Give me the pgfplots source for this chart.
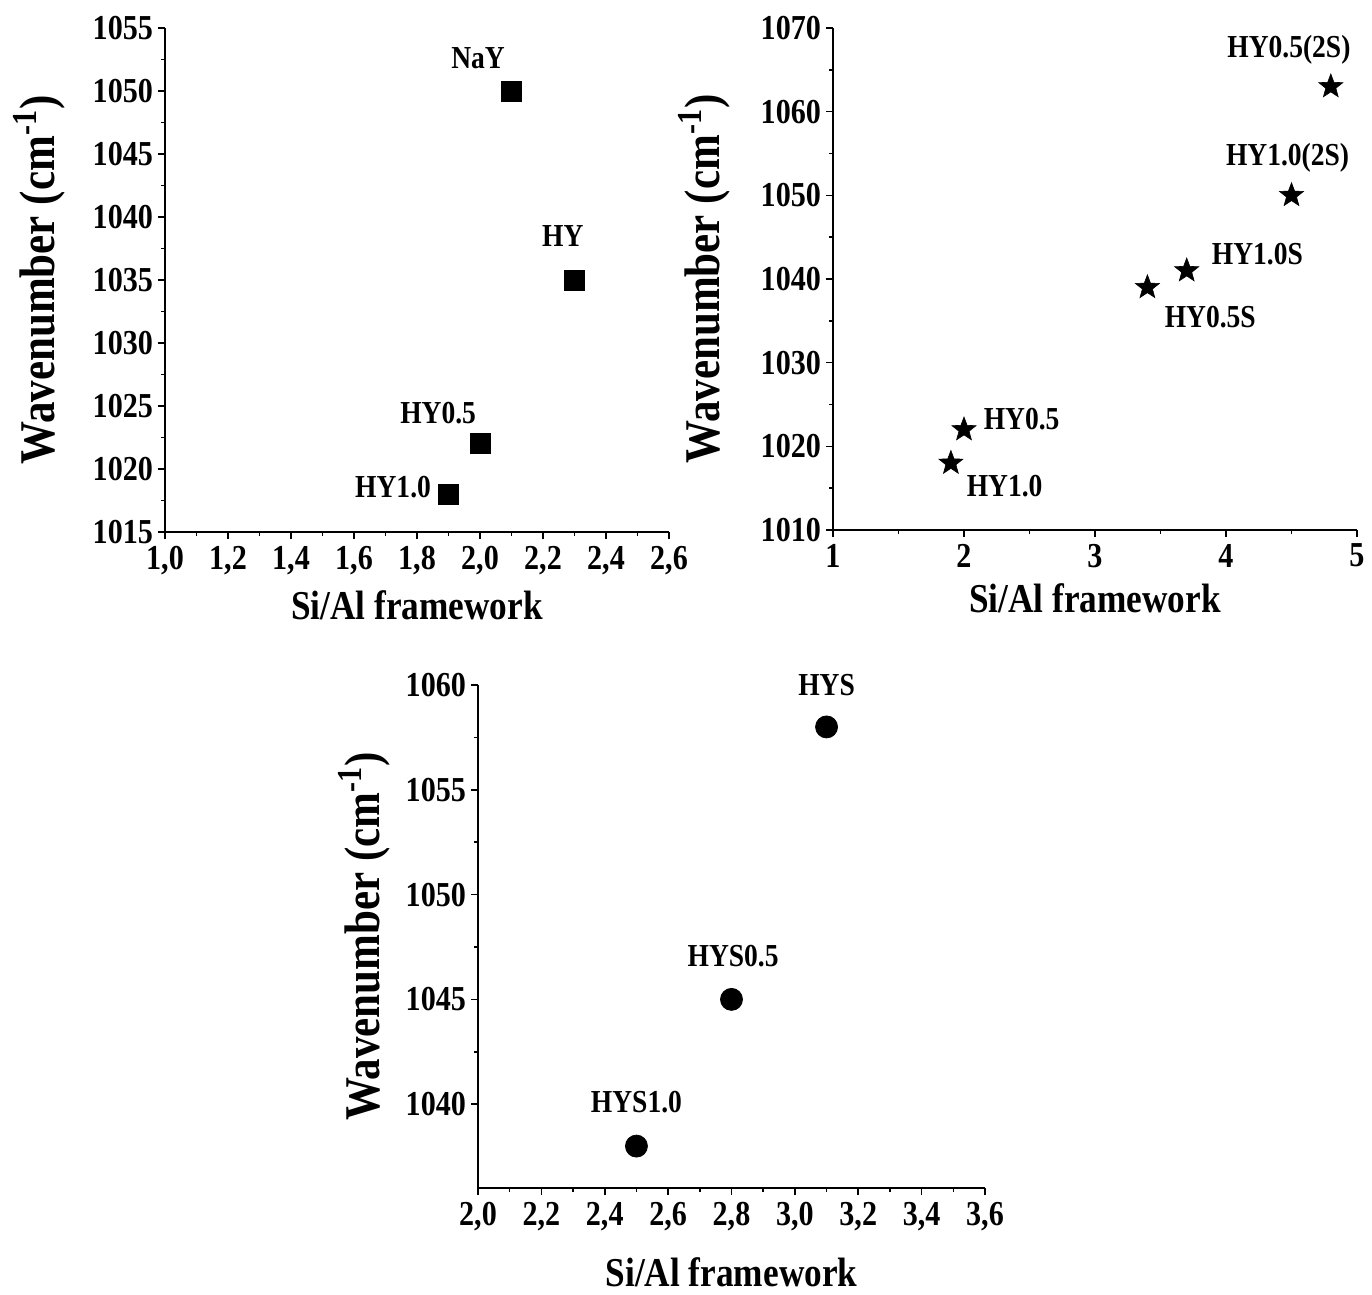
\documentclass[border=0pt]{standalone}
\usepackage{fontspec}
\setmainfont{Liberation Serif}[FakeStretch=0.86]
\usepackage{pgfplots}
\pgfplotsset{compat=1.18}
\pgfdeclareplotmark{fstar}{%
  \pgfpathmoveto{\pgfpointpolar{90}{\pgfplotmarksize}}%
  \pgfpathlineto{\pgfpointpolar{126}{0.42\pgfplotmarksize}}%
  \pgfpathlineto{\pgfpointpolar{162}{\pgfplotmarksize}}%
  \pgfpathlineto{\pgfpointpolar{198}{0.42\pgfplotmarksize}}%
  \pgfpathlineto{\pgfpointpolar{234}{\pgfplotmarksize}}%
  \pgfpathlineto{\pgfpointpolar{270}{0.42\pgfplotmarksize}}%
  \pgfpathlineto{\pgfpointpolar{306}{\pgfplotmarksize}}%
  \pgfpathlineto{\pgfpointpolar{342}{0.42\pgfplotmarksize}}%
  \pgfpathlineto{\pgfpointpolar{18}{\pgfplotmarksize}}%
  \pgfpathlineto{\pgfpointpolar{54}{0.42\pgfplotmarksize}}%
  \pgfpathclose
  \pgfusepathqfillstroke
}
\pgfplotsset{
  mystyle/.style={
    scale only axis,
    axis x line=bottom, axis y line=left,
    axis line style={-, line width=0.8pt},
    every tick/.style={line width=0.8pt, black},
    tick align=outside,
    major tick length=3.5pt, minor tick length=1.8pt,
    minor tick num=1,
    clip=false,
    tick label style={font=\bfseries\fontsize{17.5}{17.5}\selectfont, /pgf/number format/assume math mode=true},
    yticklabel style={/pgf/number format/set thousands separator={}, xshift=1pt},
    xlabel style={font=\bfseries\fontsize{20.5}{20.5}\selectfont},
    ylabel style={font=\bfseries\fontsize{25}{25}\selectfont},
    ylabel={Wavenumber (cm\textsuperscript{-1})},
    xlabel={Si/Al framework},
  },
  dec/.style={xticklabel style={/pgf/number format/.cd, fixed, precision=1, fixed zerofill, use comma}},
}
\tikzset{lab/.style={font=\bfseries\fontsize{16}{16}\selectfont, inner sep=0pt}}
\begin{document}
\begin{tikzpicture}
\useasboundingbox (0,0) rectangle (686pt,-647.5pt);
% ---------- plot 1 ----------
\begin{axis}[mystyle, dec,
  at={(82.5pt,-266pt)}, anchor=south west,
  width=252pt, height=252pt,
  xmin=1.0, xmax=2.6, ymin=1015, ymax=1055,
  xtick={1.0,1.2,1.4,1.6,1.8,2.0,2.2,2.4,2.6},
  ytick={1015,1020,1025,1030,1035,1040,1045,1050,1055},
  xlabel style={at={(axis description cs:0.5,-0.145)}, anchor=center},
  ylabel style={at={(axis description cs:-0.25,0.5)}, anchor=center},
]
\addplot[only marks, mark=square*, mark size=5pt, black] coordinates {
  (2.1,1050) (2.3,1035) (2.0,1022) (1.9,1018)
};
\node[lab] at (axis cs:1.994,1052.6) {NaY};
\node[lab] at (axis cs:2.263,1038.5) {HY};
\node[lab] at (axis cs:1.867,1024.4) {HY0.5};
\node[lab] at (axis cs:1.724,1018.6) {HY1.0};
\end{axis}
% ---------- plot 2 ----------
\begin{axis}[mystyle,
  at={(416.5pt,-265pt)}, anchor=south west,
  width=262pt, height=251pt,
  xmin=1, xmax=5, ymin=1010, ymax=1070,
  xtick={1,2,3,4,5},
  ytick={1010,1020,1030,1040,1050,1060,1070},
  xlabel style={at={(axis description cs:0.5,-0.135)}, anchor=center},
  ylabel style={at={(axis description cs:-0.246,0.5)}, anchor=center},
]
\addplot[only marks, mark=fstar, mark size=6.3pt, black, mark options={fill=black, line width=0.3pt}] coordinates {
  (4.8,1063) (4.5,1050) (3.7,1041) (3.4,1039) (2.0,1022) (1.9,1018)
};
\node[lab] at (axis cs:4.48,1067.4) {HY0.5(2S)};
\node[lab] at (axis cs:4.47,1054.5) {HY1.0(2S)};
\node[lab] at (axis cs:4.24,1043.0) {HY1.0S};
\node[lab] at (axis cs:3.88,1035.4) {HY0.5S};
\node[lab] at (axis cs:2.44,1023.3) {HY0.5};
\node[lab] at (axis cs:2.31,1015.3) {HY1.0};
\end{axis}
% ---------- plot 3 ----------
\begin{axis}[mystyle, dec,
  at={(239pt,-594pt)}, anchor=south west,
  width=253.5pt, height=251.5pt,
  xmin=2.0, xmax=3.6, ymin=1036, ymax=1060,
  xtick={2.0,2.2,2.4,2.6,2.8,3.0,3.2,3.4,3.6},
  ytick={1040,1045,1050,1055,1060},
  xlabel style={at={(axis description cs:0.5,-0.168)}, anchor=center},
  ylabel style={at={(axis description cs:-0.225,0.5)}, anchor=center},
]
\addplot[only marks, mark=*, mark size=5.5pt, black] coordinates {
  (3.1,1058) (2.8,1045) (2.5,1038)
};
\node[lab] at (axis cs:3.10,1060.0) {HYS};
\node[lab] at (axis cs:2.805,1047.05) {HYS0.5};
\node[lab] at (axis cs:2.50,1040.1) {HYS1.0};
\end{axis}
\end{tikzpicture}
\end{document}
